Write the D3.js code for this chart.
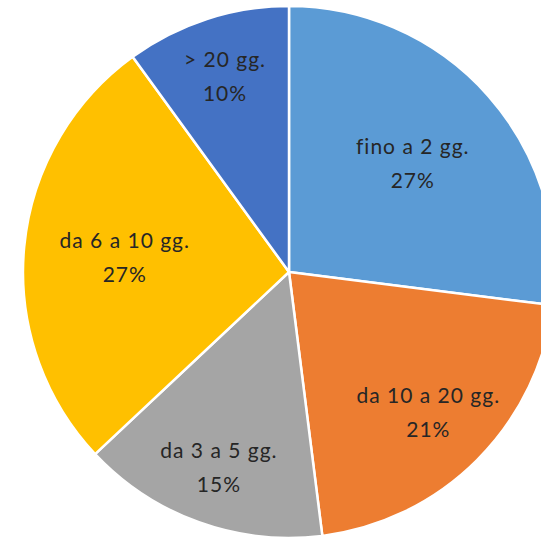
<!DOCTYPE html>
<meta charset="utf-8">
<style>
body { margin: 0; background: #fff; }
.labels text {
  font-family: Lato, "Liberation Sans", sans-serif;
  font-size: 21px;
  letter-spacing: 1px;
  fill: #262626;
  text-anchor: middle;
  dominant-baseline: central;
}
</style>
<svg width="541" height="539"></svg>
<script src="https://d3js.org/d3.v7.min.js"></script>
<script>

// dati del grafico
var categories = ["fino a 2 gg.", "da 10 a 20 gg.", "da 3 a 5 gg.", "da 6 a 10 gg.", "> 20 gg."];
var values = [27, 21, 15, 27, 10];
var colours = ["#5b9bd5", "#ed7d31", "#a5a5a5", "#ffc000", "#4472c4"];

// distanza dal centro per ogni etichetta (posizione "adatta" di excel)
var labelDist = [165, 197, 207, 165, 207];

var svg = d3.select("svg"),
    cx = 289,
    cy = 272,
    radius = 266;

var slices = categories.map(function(c, i) { return {name: c, value: values[i], idx: i}; });

var pie = d3.pie()
    .sort(null)
    .value(function(d) { return d.value; });

var arc = d3.arc()
    .innerRadius(0)
    .outerRadius(radius);

var g = svg.append("g")
    .attr("transform", "translate(" + cx + "," + cy + ")");

var arcs = pie(slices);

g.append("g")
    .attr("class", "slices")
    .selectAll("path")
    .data(arcs)
    .enter().append("path")
    .attr("d", arc)
    .attr("fill", function(d) { return colours[d.data.idx]; })
    .attr("stroke", "#fff")
    .attr("stroke-width", 2.5)
    .attr("stroke-linejoin", "round");

// etichette: nome + percentuale
var label = g.append("g")
    .attr("class", "labels")
    .selectAll("g")
    .data(arcs)
    .enter().append("g")
    .attr("transform", function(d) {
      var r = labelDist[d.data.idx];
      var c = d3.arc().innerRadius(r).outerRadius(r).centroid(d);
      return "translate(" + c[0] + "," + c[1] + ")";
    });

label.append("text")
    .attr("y", -17)
    .text(function(d) { return d.data.name; });

label.append("text")
    .attr("y", 17)
    .text(function(d) { return d.data.value + "%"; });

</script>
